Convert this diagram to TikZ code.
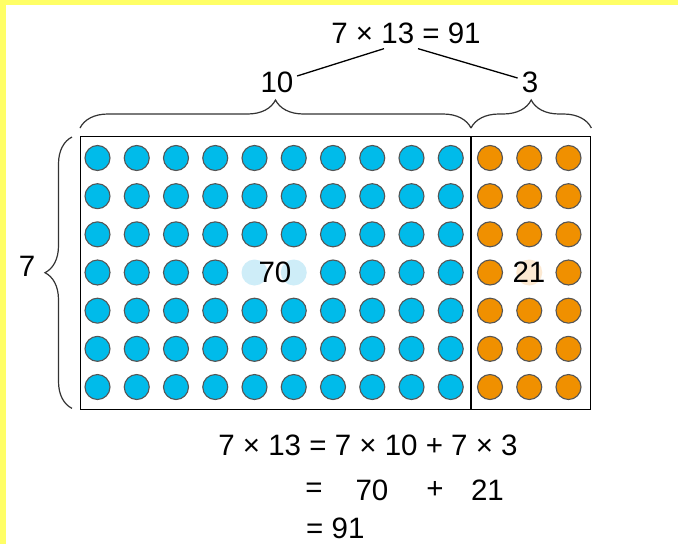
\documentclass[tikz,border=0pt]{standalone}
\usepackage{fontspec}
\setmainfont{Liberation Sans}
\usetikzlibrary{positioning,decorations.pathreplacing}
\definecolor{dotblue}{RGB}{0,187,234}
\definecolor{dotorange}{RGB}{240,144,0}
\definecolor{paleblue}{RGB}{206,237,248}
\definecolor{paleorange}{RGB}{252,233,210}
\definecolor{rimgray}{RGB}{85,85,85}
\definecolor{bracegray}{RGB}{51,51,51}
\definecolor{frameyellow}{RGB}{255,255,102}

\begin{document}
\begin{tikzpicture}[x=1pt, y=-1pt,
        numtext/.style={inner sep=0pt, font=\fontsize{29.5}{34}\selectfont},
        ball/.style={circle, draw=rimgray, line width=1.1pt, minimum size=25pt, inner sep=0pt},
        ghost/.style={circle, draw=none, minimum size=26pt, inner sep=0pt},
        brace/.style={decorate, decoration={brace, amplitude=28pt}, line width=1.2pt, bracegray},
        link/.style={line width=1.3pt, black}
    ]
    \useasboundingbox (0,0) rectangle (678,544);
    \fill[white] (0,0) rectangle (678,544);
    \fill[frameyellow] (0,0) rectangle (678,5);
    \fill[frameyellow] (0,0) rectangle (6,544);

    % array of dots
    \node[draw, line width=1.4pt, minimum width=510pt, minimum height=273pt,
          inner sep=0pt, anchor=north west] (array) at (80,136) {};
    \coordinate (splittop) at ([xshift=391pt]array.north west);
    \coordinate (splitbot) at ([xshift=391pt]array.south west);
    \draw[line width=1.4pt] (splittop) -- (splitbot);

    \foreach \r in {0,1,2,4,5,6} {
        \foreach \c in {0,...,9}
            \node[ball, fill=dotblue] (b-\r-\c) at ({97.5+39.25*\c},{158+38.17*\r}) {};
        \foreach \c in {10,11,12}
            \node[ball, fill=dotorange] (b-\r-\c) at ({97.5+39.25*\c},{158+38.17*\r}) {};
    }
    \foreach \c in {0,1,2,3,6,7,8,9}
        \node[ball, fill=dotblue] (b-3-\c) at ({97.5+39.25*\c},272.5) {};
    \foreach \c in {10,12}
        \node[ball, fill=dotorange] (b-3-\c) at ({97.5+39.25*\c},272.5) {};

    % pale dots behind the counts
    \node[ghost, fill=paleblue] (g-4) at ({97.5+39.25*4},272.5) {};
    \node[ghost, fill=paleblue] (g-5) at ({97.5+39.25*5},272.5) {};
    \node[ghost, fill=paleorange] (g-11) at ({97.5+39.25*11},272.5) {};
    \node[numtext] (seventy) at (275,272.5) {70};
    \node[numtext] (twentyone) at (529,272.5) {21};

    % braces
    \draw[brace] ([yshift=8pt]array.north west) -- ([yshift=8pt]splittop);
    \draw[brace] ([yshift=8pt]splittop) -- ([yshift=8pt]array.north east);
    \draw[brace, decoration={amplitude=27pt}] ([xshift=-8pt,yshift=2pt]array.south west)
        -- ([xshift=-8pt,yshift=-1pt]array.north west);

    \node[numtext] (ten) at (277,82) {10};
    \node[numtext] (three) at (530,82) {3};
    \node[numtext] (rows) at (27,266) {7};
    \node[numtext] (total) at (406,33) {7 × 13 = 91};

    \draw[link] ([xshift=-22pt,yshift=-5pt]total.south) -- ([xshift=3.5pt,yshift=6pt]ten.east);
    \draw[link] ([xshift=12pt,yshift=-5pt]total.south) -- ([xshift=-4pt,yshift=4pt]three.west);

    % working
    \node[numtext] (split) at (368,445) {7 × 13 = 7 × 10 + 7 × 3};
    \node[numtext] (eqa) at (314,490) {=};
    \node[numtext] (part70) at (372,490) {70};
    \node[numtext] (plus) at (435,490) {+};
    \node[numtext] (part21) at (487.5,490) {21};
    \node[numtext, anchor=west] (result) at (306,528) {= 91};
\end{tikzpicture}
\end{document}
